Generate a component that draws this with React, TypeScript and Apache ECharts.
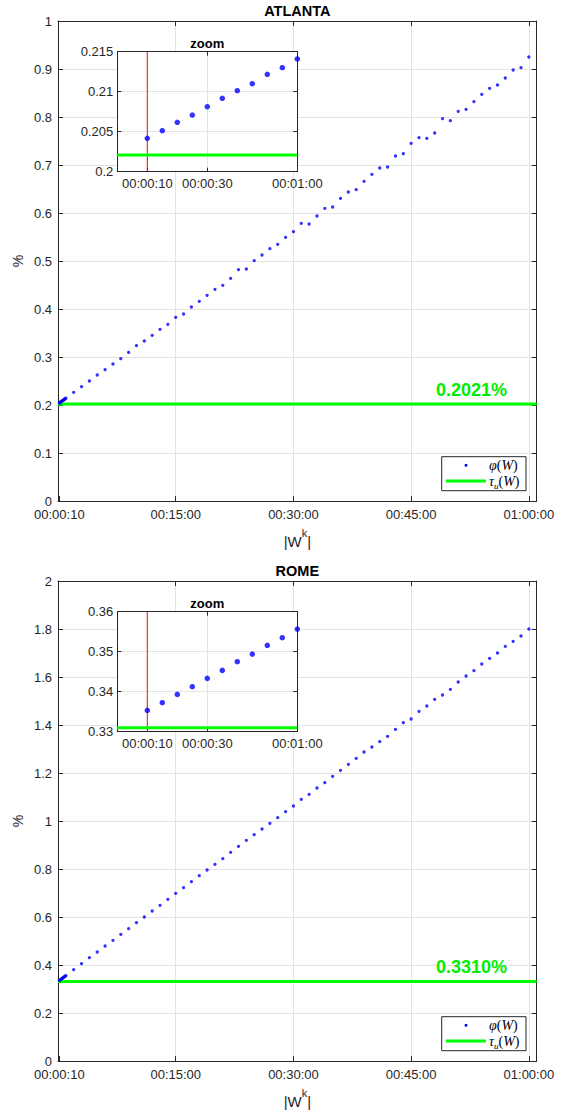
import React, { useEffect, useRef } from 'react';
import * as echarts from 'echarts';

// ---------- data ----------
const zoomTimes = [10, 15, 20, 25, 30, 35, 40, 45, 50, 55, 60];
const coarseTimes = [
  120, 180, 240, 300, 360, 420, 480, 540, 600, 660, 720, 780, 840, 900, 960, 1020, 1080, 1140, 1200, 1260,
  1320, 1380, 1440, 1500, 1560, 1620, 1680, 1740, 1800, 1860, 1920, 1980, 2040, 2100, 2160, 2220, 2280, 2340,
  2400, 2460, 2520, 2580, 2640, 2700, 2760, 2820, 2880, 2940, 3000, 3060, 3120, 3180, 3240, 3300, 3360, 3420,
  3480, 3540, 3600,
];
const atlantaZoom = [0.20417, 0.20513, 0.20617, 0.20708, 0.20813, 0.20917, 0.21013, 0.211, 0.21217, 0.213, 0.21409];
const atlantaCoarse = [
  0.2264, 0.2382, 0.25, 0.2625, 0.2736, 0.2854, 0.2965, 0.3097, 0.3236, 0.3333, 0.3451, 0.3576, 0.3681, 0.3826,
  0.3896, 0.4042, 0.416, 0.4285, 0.441, 0.4493, 0.4639, 0.4819, 0.4833, 0.5007, 0.5125, 0.5257, 0.5347, 0.5493,
  0.5611, 0.5785, 0.5771, 0.5938, 0.6097, 0.6125, 0.6306, 0.6438, 0.6486, 0.666, 0.6806, 0.6938, 0.6958, 0.7188,
  0.7236, 0.7451, 0.7569, 0.7556, 0.7667, 0.7965, 0.7924, 0.8118, 0.816, 0.8319, 0.8472, 0.8597, 0.8667, 0.8813,
  0.8979, 0.9028, 0.925,
];
const romeZoom = [0.33533, 0.33725, 0.33933, 0.34125, 0.34333, 0.34533, 0.3475, 0.34942, 0.35158, 0.3535, 0.35567];
const romeCoarse = [
  0.3806, 0.4056, 0.4306, 0.4542, 0.4792, 0.5028, 0.5278, 0.5514, 0.5764, 0.6, 0.625, 0.6486, 0.6736, 0.6986,
  0.7222, 0.7472, 0.7722, 0.7958, 0.8194, 0.8431, 0.8694, 0.8944, 0.9194, 0.9431, 0.9667, 0.9903, 1.0139, 1.0389,
  1.0625, 1.0903, 1.1111, 1.1375, 1.1597, 1.1861, 1.2111, 1.2361, 1.2611, 1.2875, 1.3083, 1.3306, 1.3528, 1.3819,
  1.4097, 1.425, 1.4569, 1.4792, 1.5069, 1.525, 1.5486, 1.5792, 1.6042, 1.6264, 1.6542, 1.6778, 1.7, 1.7278,
  1.7486, 1.7708, 1.8,
];
const atlantaThreshold = 0.2021;
const romeThreshold = 0.331;
const xTickSecs = [10, 900, 1800, 2700, 3600];
const zoomTickSecs = [10, 30, 60];
const cityNames = ['ATLANTA', 'ROME'];

// ---------- helpers ----------
const FONT = '"Liberation Sans", Arial, Helvetica, sans-serif';
const SERIF = '"Liberation Serif", "DejaVu Serif", serif';
const AX = '#262626';
const GRID = '#e3e3e3';
const pad = (n: number) => String(n).padStart(2, '0');
const fmtTime = (v: number) => {
  const t = Math.round(v);
  return `${pad(Math.floor(t / 3600))}:${pad(Math.floor((t % 3600) / 60))}:${pad(t % 60)}`;
};

const panels = [
  {
    name: cityNames[0], zoom: atlantaZoom, coarse: atlantaCoarse, thr: atlantaThreshold,
    yMax: 1, yInt: 0.1, zMin: 0.2, zMax: 0.215, zInt: 0.005, dy: 0, thrTextY: 390,
  },
  {
    name: cityNames[1], zoom: romeZoom, coarse: romeCoarse, thr: romeThreshold,
    yMax: 2, yInt: 0.2, zMin: 0.33, zMax: 0.36, zInt: 0.01, dy: 560, thrTextY: 967,
  },
];

const MAIN = { left: 58, top: 21, width: 478.7, height: 480 };
const INSET = { left: 117.3, top: 51.7, width: 180, height: 120 };
const X_MAX = 3660;
const Z_MAX = 60;

function buildOption() {
  const grid: any[] = [];
  const xAxis: any[] = [];
  const yAxis: any[] = [];
  const series: any[] = [];
  const graphic: any[] = [];

  panels.forEach((p) => {
    const gMain = grid.length;
    grid.push({ left: MAIN.left, top: MAIN.top + p.dy, width: MAIN.width, height: MAIN.height });
    const gIns = grid.length;
    grid.push({ left: INSET.left, top: INSET.top + p.dy, width: INSET.width, height: INSET.height });

    // main axes
    const xb = xAxis.length;
    xAxis.push({
      gridIndex: gMain, type: 'value', min: 0, max: X_MAX, position: 'bottom',
      axisLine: { show: true, onZero: false, lineStyle: { color: AX, width: 1 } },
      axisTick: { show: true, inside: true, length: 5, customValues: xTickSecs, lineStyle: { color: AX } },
      axisLabel: { show: true, customValues: xTickSecs, formatter: fmtTime, fontSize: 13, color: AX, fontFamily: FONT, margin: 7 },
      splitLine: { show: false },
    });
    xAxis.push({
      gridIndex: gMain, type: 'value', min: 0, max: X_MAX, interval: 900, position: 'top',
      axisLine: { show: true, onZero: false, lineStyle: { color: AX, width: 1 } },
      axisTick: { show: true, inside: true, length: 5, lineStyle: { color: AX } },
      axisLabel: { show: false },
      splitLine: { show: true, lineStyle: { color: GRID, width: 1 } },
    });
    const yl = yAxis.length;
    yAxis.push({
      gridIndex: gMain, type: 'value', min: 0, max: p.yMax, interval: p.yInt, position: 'left',
      axisLine: { show: true, onZero: false, lineStyle: { color: AX, width: 1 } },
      axisTick: { show: true, inside: true, length: 5, lineStyle: { color: AX } },
      axisLabel: { show: true, fontSize: 13, color: AX, fontFamily: FONT, margin: 6 },
      splitLine: { show: true, lineStyle: { color: GRID, width: 1 } },
    });
    yAxis.push({
      gridIndex: gMain, type: 'value', min: 0, max: p.yMax, interval: p.yInt, position: 'right',
      axisLine: { show: true, onZero: false, lineStyle: { color: AX, width: 1 } },
      axisTick: { show: true, inside: true, length: 5, lineStyle: { color: AX } },
      axisLabel: { show: false },
      splitLine: { show: false },
    });

    // inset axes
    const xib = xAxis.length;
    xAxis.push({
      gridIndex: gIns, type: 'value', min: 0, max: Z_MAX, position: 'bottom', z: 3,
      axisLine: { show: true, onZero: false, lineStyle: { color: AX, width: 1 } },
      axisTick: { show: true, inside: true, length: 4, customValues: zoomTickSecs, lineStyle: { color: AX } },
      axisLabel: { show: true, customValues: zoomTickSecs, formatter: fmtTime, fontSize: 13, color: AX, fontFamily: FONT, margin: 5 },
      splitLine: { show: false },
    });
    xAxis.push({
      gridIndex: gIns, type: 'value', min: 0, max: Z_MAX, interval: 30, position: 'top', z: 3,
      axisLine: { show: true, onZero: false, lineStyle: { color: AX, width: 1 } },
      axisTick: { show: true, inside: true, length: 4, lineStyle: { color: AX } },
      axisLabel: { show: false },
      splitLine: { show: true, lineStyle: { color: GRID, width: 1 } },
    });
    const yil = yAxis.length;
    yAxis.push({
      gridIndex: gIns, type: 'value', min: p.zMin, max: p.zMax, interval: p.zInt, position: 'left', z: 3,
      axisLine: { show: true, onZero: false, lineStyle: { color: AX, width: 1 } },
      axisTick: { show: true, inside: true, length: 4, lineStyle: { color: AX } },
      axisLabel: { show: true, fontSize: 13, color: AX, fontFamily: FONT, margin: 4 },
      splitLine: { show: true, lineStyle: { color: GRID, width: 1 } },
    });
    yAxis.push({
      gridIndex: gIns, type: 'value', min: p.zMin, max: p.zMax, interval: p.zInt, position: 'right', z: 3,
      axisLine: { show: true, onZero: false, lineStyle: { color: AX, width: 1 } },
      axisTick: { show: true, inside: true, length: 4, lineStyle: { color: AX } },
      axisLabel: { show: false },
      splitLine: { show: false },
    });

    const allTimes = zoomTimes.concat(coarseTimes);
    const allVals = p.zoom.concat(p.coarse);

    // main threshold line
    series.push({
      type: 'line', xAxisIndex: xb, yAxisIndex: yl, symbol: 'none', silent: true, z: 2,
      lineStyle: { color: '#00ff00', width: 3 },
      data: [[0, p.thr], [X_MAX, p.thr]],
    });
    // main scatter
    series.push({
      type: 'scatter', xAxisIndex: xb, yAxisIndex: yl, symbol: 'circle', symbolSize: 3.3, z: 3,
      itemStyle: { color: '#0000ff' }, silent: true,
      data: allTimes.map((t, i) => [t, allVals[i]]),
    });
    // inset red line at first zoom time
    series.push({
      type: 'line', xAxisIndex: xib, yAxisIndex: yil, symbol: 'none', silent: true, z: 4,
      lineStyle: { color: '#ff0000', width: 1 },
      data: [[zoomTimes[0], p.zMin], [zoomTimes[0], p.zMax]],
    });
    // inset threshold line
    series.push({
      type: 'line', xAxisIndex: xib, yAxisIndex: yil, symbol: 'none', silent: true, z: 4,
      lineStyle: { color: '#00ff00', width: 3 },
      data: [[0, p.thr], [Z_MAX, p.thr]],
    });
    // inset scatter
    series.push({
      type: 'scatter', xAxisIndex: xib, yAxisIndex: yil, symbol: 'circle', symbolSize: 5.5, z: 5,
      itemStyle: { color: '#0000ff' }, silent: true,
      data: zoomTimes.map((t, i) => [t, p.zoom[i]]),
    });

    const cx = MAIN.left + MAIN.width / 2;
    // inset background (covers main grid lines)
    graphic.push({
      type: 'rect', z: 1, silent: true,
      shape: { x: INSET.left, y: INSET.top + p.dy, width: INSET.width, height: INSET.height },
      style: { fill: '#ffffff' },
    });
    // titles
    graphic.push({
      type: 'text', x: cx, y: 11 + p.dy, z: 10,
      style: { text: p.name, fontFamily: FONT, fontWeight: 'bold', fontSize: 14.5, fill: '#000', align: 'center', verticalAlign: 'middle' },
    });
    graphic.push({
      type: 'text', x: INSET.left + INSET.width / 2, y: 43 + p.dy, z: 10,
      style: { text: 'zoom', fontFamily: FONT, fontWeight: 'bold', fontSize: 13, fill: '#000', align: 'center', verticalAlign: 'middle' },
    });
    // axis names
    graphic.push({
      type: 'text', x: 18, y: MAIN.top + p.dy + MAIN.height / 2, rotation: Math.PI / 2, z: 10,
      style: { text: '%', fontFamily: FONT, fontSize: 14, fill: AX, align: 'center', verticalAlign: 'middle' },
    });
    graphic.push({
      type: 'text', x: cx, y: 538 + p.dy, z: 10,
      style: {
        text: '{n||W}{s|k}{n||}', fontFamily: FONT, fill: AX, align: 'center', verticalAlign: 'middle',
        rich: {
          n: { fontFamily: FONT, fontSize: 15, color: AX, lineHeight: 22, verticalAlign: 'bottom' },
          s: { fontFamily: FONT, fontSize: 11, color: AX, lineHeight: 22, verticalAlign: 'top' },
        },
      },
    });
    // threshold label
    graphic.push({
      type: 'text', x: 507, y: p.thrTextY, z: 10,
      style: { text: `${p.thr.toFixed(4)}%`, fontFamily: FONT, fontWeight: 'bold', fontSize: 18, fill: '#00ee00', align: 'right', verticalAlign: 'middle' },
    });
    // legend
    const ly = 456.7 + p.dy;
    graphic.push({
      type: 'rect', z: 10, silent: true,
      shape: { x: 441.7, y: ly, width: 84.3, height: 34 },
      style: { fill: '#ffffff', stroke: AX, lineWidth: 1 },
    });
    graphic.push({ type: 'circle', z: 11, shape: { cx: 466, cy: ly + 8.6, r: 1.5 }, style: { fill: '#0000ff' } });
    graphic.push({
      type: 'line', z: 11, shape: { x1: 446, y1: ly + 24.3, x2: 486, y2: ly + 24.3 },
      style: { stroke: '#00ff00', lineWidth: 3 },
    });
    graphic.push({
      type: 'text', z: 11, x: 489, y: ly + 8.6,
      style: {
        text: '{i|φ}{n|(}{i|W}{n|)}', align: 'left', verticalAlign: 'middle',
        rich: {
          i: { fontFamily: SERIF, fontStyle: 'italic', fontSize: 14, color: '#000' },
          n: { fontFamily: SERIF, fontSize: 14, color: '#000' },
        },
      },
    });
    graphic.push({
      type: 'text', z: 11, x: 489, y: ly + 24.3,
      style: {
        text: '{i|τ}{s|u}{n|(}{i|W}{n|)}', align: 'left', verticalAlign: 'middle',
        rich: {
          i: { fontFamily: SERIF, fontStyle: 'italic', fontSize: 14, color: '#000', lineHeight: 18 },
          s: { fontFamily: SERIF, fontStyle: 'italic', fontSize: 9, color: '#000', lineHeight: 18, verticalAlign: 'bottom' },
          n: { fontFamily: SERIF, fontSize: 14, color: '#000', lineHeight: 18 },
        },
      },
    });
  });

  return {
    animation: false,
    backgroundColor: '#ffffff',
    textStyle: { fontFamily: FONT },
    grid, xAxis, yAxis, series, graphic,
  };
}

export default function App() {
  const ref = useRef<HTMLDivElement>(null);
  useEffect(() => {
    if (!ref.current) return;
    const chart = echarts.init(ref.current, null, { renderer: 'svg' });
    chart.setOption(buildOption() as any);
    return () => chart.dispose();
  }, []);
  return (
    <div
      ref={ref}
      style={{ position: 'absolute', left: 0, top: 0, width: 569, height: 1111, background: '#fff' }}
    />
  );
}
